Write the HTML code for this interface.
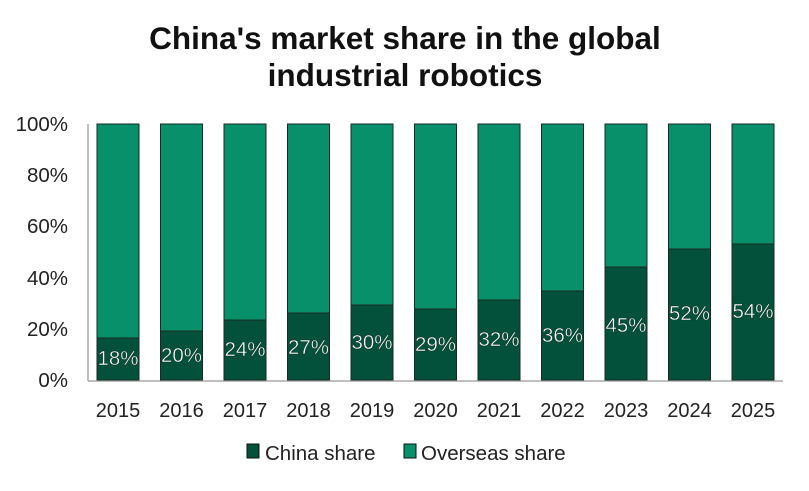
<!DOCTYPE html>
<html><head><style>
body{margin:0;background:#fff;}
svg text{font-family:"Liberation Sans",sans-serif;}
</style></head><body>
<svg width="809" height="486" xmlns="http://www.w3.org/2000/svg">
<text x="405" y="49" font-size="31.5" font-weight="bold" text-anchor="middle" fill="#111">China's market share in the global</text>
<text x="405" y="86" font-size="31.5" font-weight="bold" text-anchor="middle" fill="#111">industrial robotics</text>
<g font-size="20.5" fill="#222" text-anchor="end">
<text x="68" y="131">100%</text><text x="68" y="182">80%</text><text x="68" y="233">60%</text>
<text x="68" y="285">40%</text><text x="68" y="336">20%</text><text x="68" y="387">0%</text>
</g>
<line x1="88" y1="124" x2="88" y2="381" stroke="#aaa" stroke-width="1.5"/>
<line x1="88" y1="381" x2="783" y2="381" stroke="#aaa" stroke-width="1.5"/>
<g id="bars" stroke="#1a2a22" stroke-width="1"></g>
<g id="labels" font-size="20.5" fill="#fff" stroke="#0a2a1e" stroke-width="0.4" text-anchor="middle"></g>
<g id="years" font-size="20" fill="#222" text-anchor="middle"></g>
<rect x="247" y="444" width="12" height="14" fill="#03513a" stroke="#111"/>
<text x="265" y="460" font-size="20.5" fill="#222">China share</text>
<rect x="404" y="444" width="12" height="14" fill="#079069" stroke="#111"/>
<text x="421" y="460" font-size="20.5" fill="#222">Overseas share</text>
<script>
var yrs=[2015,2016,2017,2018,2019,2020,2021,2022,2023,2024,2025];
var tops=[338,331,320,313,305,309,300,291,267,249,244];
var vals=[18,20,24,27,30,29,32,36,45,52,54];
var ly=[365,362,356,354,349,351,346,342,332,320,318];
var ns="http://www.w3.org/2000/svg";
var b=document.getElementById('bars'),l=document.getElementById('labels'),y=document.getElementById('years');
yrs.forEach(function(yr,i){
 var x=97+i*63.5;
 var r=document.createElementNS(ns,'rect');r.setAttribute('x',x);r.setAttribute('y',124);r.setAttribute('width',42);r.setAttribute('height',tops[i]-124);r.setAttribute('fill','#079069');b.appendChild(r);
 r=document.createElementNS(ns,'rect');r.setAttribute('x',x);r.setAttribute('y',tops[i]);r.setAttribute('width',42);r.setAttribute('height',380-tops[i]);r.setAttribute('fill','#03513a');b.appendChild(r);
 var t=document.createElementNS(ns,'text');t.setAttribute('x',x+21);t.setAttribute('y',ly[i]);t.textContent=vals[i]+'%';l.appendChild(t);
 t=document.createElementNS(ns,'text');t.setAttribute('x',x+21);t.setAttribute('y',417);t.textContent=yr;y.appendChild(t);
});
</script>
</svg>
</body></html>
